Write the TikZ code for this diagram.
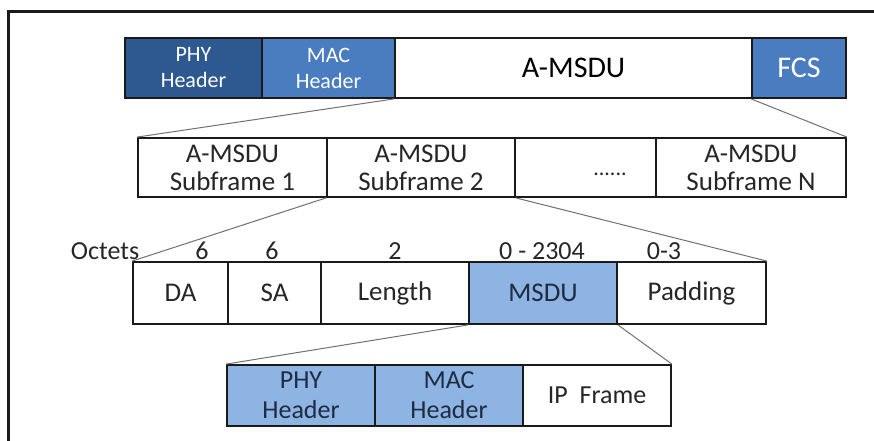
\documentclass[tikz,border=0pt]{standalone}
\usepackage{fontspec}
\setmainfont{Carlito}
\definecolor{darkhdr}{HTML}{2E5890}
\definecolor{midhdr}{HTML}{4A7DC0}
\definecolor{lighthdr}{HTML}{8EB4E3}
\definecolor{frameink}{HTML}{1A1A1A}
\definecolor{linkgray}{HTML}{707070}
\definecolor{navytext}{HTML}{1E2B40}
\definecolor{inktext}{HTML}{262626}

\tikzset{
  cell/.style={draw=frameink, line width=1.8pt, inner sep=0pt, align=center, text=inktext},
  link/.style={draw=linkgray, line width=1pt},
  toprow/.style={cell, minimum height=60pt},
  subrow/.style={cell, minimum height=59pt, font=\fontsize{27}{28}\selectfont},
  fieldrow/.style={cell, minimum height=62pt, font=\fontsize{27}{30}\selectfont},
  innerrow/.style={cell, minimum height=61pt, font=\fontsize{26}{30}\selectfont},
  hdrtext/.style={text=white, font=\fontsize{22}{26}\selectfont},
  octet/.style={anchor=base, inner sep=0pt, text=inktext, font=\fontsize{26}{28}\selectfont},
}

\begin{document}
\begin{tikzpicture}[x=1pt,y=-1pt]
\useasboundingbox (0,0) rectangle (874,441);

% frame edges
\draw[line width=3pt, frameink] (8,441) -- (8,12) -- (874,12);

% outer frame row
\node[toprow, hdrtext, fill=darkhdr, minimum width=137pt] (phy) at (193.5,68) {PHY\\Header};
\node[toprow, hdrtext, fill=midhdr, minimum width=133pt] (mac) at (328.5,68) {MAC\\Header};
\node[toprow, fill=white, minimum width=357pt, text=black, font=\fontsize{30}{32}\selectfont] (amsdu) at (573.5,68) {A-MSDU};
\node[toprow, fill=midhdr, minimum width=94pt, text=white, font=\fontsize{30}{32}\selectfont] (fcs) at (799,68) {FCS};

% subframes
\node[subrow, fill=white, minimum width=189pt] (sf1) at (232.5,167.5) {A-MSDU\\Subframe 1};
\node[subrow, fill=white, minimum width=188pt] (sf2) at (421,167.5) {A-MSDU\\Subframe 2};
\node[subrow, fill=white, minimum width=141pt] (sfd) at (585.5,167.5) {};
\node[inner sep=0pt, anchor=base, text=inktext, font=\fontsize{22}{24}\selectfont] (dots) at (610,175) {......};
\node[subrow, fill=white, minimum width=190pt] (sfn) at (751,167.5) {A-MSDU\\Subframe N};

% subframe fields
\node[fieldrow, fill=white, minimum width=95pt] (da) at (180.5,293) {DA};
\node[fieldrow, fill=white, minimum width=93pt] (sa) at (274.5,293) {SA};
\node[fieldrow, fill=white, minimum width=148pt] (len) at (395,293) {Length};
\node[fieldrow, fill=lighthdr, minimum width=148pt, text=navytext] (msdu) at (543,293) {MSDU};
\node[fieldrow, fill=white, minimum width=149pt] (pad) at (691.5,293) {Padding};

% field sizes
\node[octet] (octlbl) at (105,259) {Octets};
\node[octet] (octda) at (202,259) {6};
\node[octet] (octsa) at (272,259) {6};
\node[octet] (octlen) at (395,259) {2};
\node[octet] (octmsdu) at (542,259) {0 - 2304};
\node[octet] (octpad) at (664,259) {0-3};

% MSDU contents
\node[innerrow, fill=lighthdr, minimum width=148pt, text=navytext] (iphy) at (301,395.5) {PHY\\Header};
\node[innerrow, fill=lighthdr, minimum width=148pt, text=navytext] (imac) at (449,395.5) {MAC\\Header};
\node[innerrow, fill=white, minimum width=148pt] (ip) at (597,395.5) {IP\ \ Frame};

% expansion lines
\draw[link] (amsdu.south west) -- (sf1.north west);
\draw[link] (fcs.south west) -- (sfn.north east);
\draw[link] (sf2.south west) -- (da.north west);
\draw[link] (sf2.south east) -- (pad.north east);
\draw[link] (msdu.south west) -- (iphy.north west);
\draw[link] (msdu.south east) -- (ip.north east);
\end{tikzpicture}
\end{document}
